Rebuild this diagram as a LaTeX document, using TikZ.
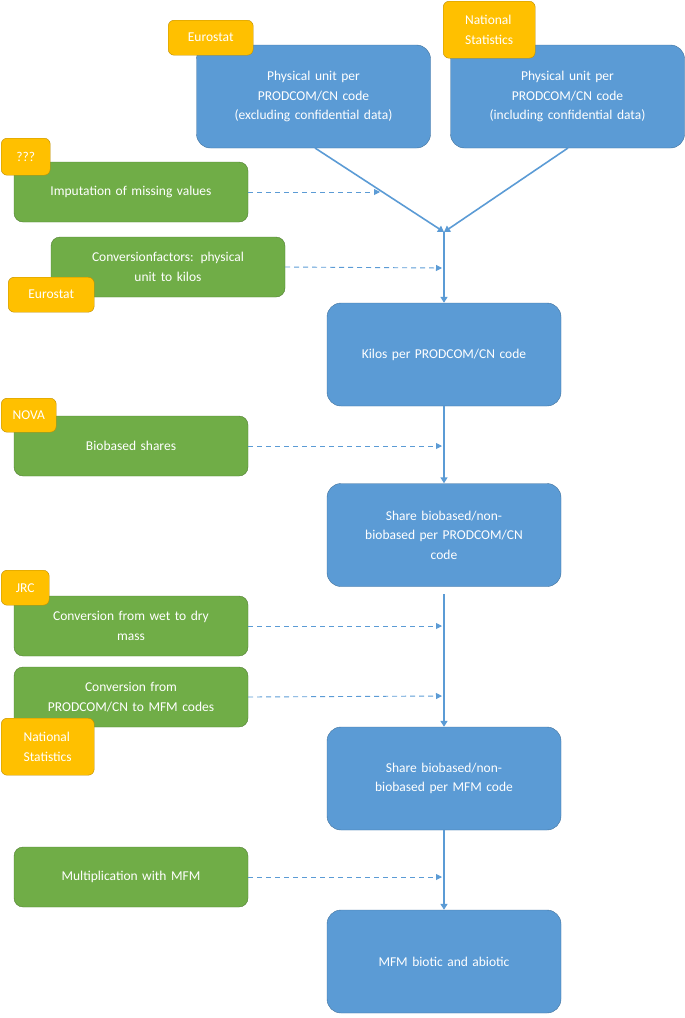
\documentclass[tikz,border=0pt]{standalone}
\usepackage{fontspec}
\setmainfont{Carlito}
\usetikzlibrary{arrows.meta}
\definecolor{flowblue}{RGB}{91,155,213}
\definecolor{flowblueline}{RGB}{65,113,156}
\definecolor{inputgreen}{RGB}{112,173,71}
\definecolor{inputgreenline}{RGB}{80,126,50}
\definecolor{sourceorange}{RGB}{255,192,0}
\definecolor{sourceorangeline}{RGB}{188,140,0}
\begin{document}
\begin{tikzpicture}[x=1pt, y=-1pt,
    every node/.style={font=\fontsize{13.5}{19.5}\selectfont, text=white, inner sep=0pt},
    stepbox/.style={draw=flowblueline, fill=flowblue, rounded corners=14pt, minimum width=234pt, minimum height=103pt, align=center, text width=215pt},
    inbox/.style={draw=inputgreenline, fill=inputgreen, rounded corners=9pt, minimum width=234pt, minimum height=60pt, align=center, text width=215pt},
    srctag/.style={draw=sourceorangeline, fill=sourceorange, rounded corners=6pt, align=left, anchor=north west, inner xsep=7pt, inner ysep=6pt},
    flow/.style={flowblue, line width=1.6pt, -{Triangle[width=7pt,length=6pt]}},
    feed/.style={flowblue, line width=0.9pt, dashed, dash pattern=on 5pt off 4pt, -{Triangle[width=6pt,length=6pt]}}]
  \useasboundingbox (0,0) rectangle (685,1018);

  % Process steps
  \node[stepbox] (excl) at (313.5,96.5) {Physical unit per\\PRODCOM/CN code\\(excluding confidential data)};
  \node[stepbox] (incl) at (567.5,96.5) {Physical unit per\\PRODCOM/CN code\\(including confidential data)};
  \node[stepbox] (kilos) at (444,354.5) {Kilos per PRODCOM/CN code};
  \node[stepbox] (share) at (444,535) {Share biobased/non-\\biobased per PRODCOM/CN\\code};
  \node[stepbox] (sharemfm) at (444,778.5) {Share biobased/non-\\biobased per MFM code};
  \node[stepbox] (mfm) at (444,961.5) {MFM biotic and abiotic};

  % Inputs
  \node[inbox] (impute) at (131,192) {Imputation of missing values};
  \node[inbox] (convfac) at (168,267) {Conversionfactors: physical\\unit to kilos};
  \node[inbox] (bioshare) at (131,446) {Biobased shares};
  \node[inbox] (wetdry) at (131,626) {Conversion from wet to dry\\mass};
  \node[inbox] (codes) at (131,697) {Conversion from\\PRODCOM/CN to MFM codes};
  \node[inbox] (multiply) at (131,877) {Multiplication with MFM};

  % Sources
  \node[srctag, minimum width=85pt, minimum height=35pt] (src1) at (168,20) {Eurostat};
  \node[srctag, minimum width=92pt, minimum height=57pt] (src2) at (443,1) {National\\Statistics};
  \node[srctag, minimum width=49pt, minimum height=37pt] (src3) at (1,138) {???};
  \node[srctag, minimum width=86pt, minimum height=35pt] (src4) at (8,277) {Eurostat};
  \node[srctag, minimum width=55pt, minimum height=34pt] (src5) at (1,398) {NOVA};
  \node[srctag, minimum width=48pt, minimum height=35pt] (src6) at (1,570) {JRC};
  \node[srctag, minimum width=93pt, minimum height=57pt] (src7) at (1,718) {National\\Statistics};

  % Flow
  \coordinate (merge) at (444,232);
  \coordinate (gap) at (444,594);
  \draw[flow] (315,148) -- (merge);
  \draw[flow] (568,148) -- (merge);
  \draw[flow] (merge) -- (kilos.north);
  \draw[flow] (kilos.south) -- (share.north);
  \draw[flow] (gap) -- (sharemfm.north);
  \draw[flow] (sharemfm.south) -- (mfm.north);

  % Feeds
  \draw[feed] (impute.east) -- (380,192);
  \draw[feed] (convfac.east) -- (442,268);
  \draw[feed] (bioshare.east) -- (442,446);
  \draw[feed] (wetdry.east) -- (442,626);
  \draw[feed] (codes.east) -- (442,696);
  \draw[feed] (multiply.east) -- (442,877);
\end{tikzpicture}
\end{document}
